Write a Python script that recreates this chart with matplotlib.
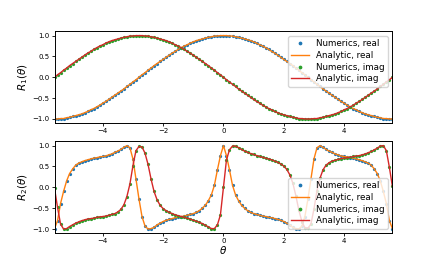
import matplotlib
matplotlib.use("Agg")
import matplotlib.pyplot as plt

# theta grid (sample points of the numerics)
theta = [
    -5.6, -5.5, -5.4, -5.3, -5.2, -5.1, -5.0, -4.9, -4.8, -4.7,
    -4.6, -4.5, -4.4, -4.3, -4.2, -4.1, -4.0, -3.9, -3.8, -3.7,
    -3.6, -3.5, -3.4, -3.3, -3.2, -3.1, -3.0, -2.9, -2.8, -2.7,
    -2.6, -2.5, -2.4, -2.3, -2.2, -2.1, -2.0, -1.9, -1.8, -1.7,
    -1.6, -1.5, -1.4, -1.3, -1.2, -1.1, -1.0, -0.9, -0.8, -0.7,
    -0.6, -0.5, -0.4, -0.3, -0.2, -0.1, 0.0, 0.1, 0.2, 0.3,
    0.4, 0.5, 0.6, 0.7, 0.8, 0.9, 1.0, 1.1, 1.2, 1.3,
    1.4, 1.5, 1.6, 1.7, 1.8, 1.9, 2.0, 2.1, 2.2, 2.3,
    2.4, 2.5, 2.6, 2.7, 2.8, 2.9, 3.0, 3.1, 3.2, 3.3,
    3.4, 3.5, 3.6, 3.7, 3.8, 3.9, 4.0, 4.1, 4.2, 4.3,
    4.4, 4.5, 4.6, 4.7, 4.8, 4.9, 5.0, 5.1, 5.2, 5.3,
    5.4, 5.5, 5.6,
]

# R1: real / imaginary parts
r1_real = [
    -1.00, -1.00, -0.99, -0.99, -0.97, -0.96, -0.94, -0.92, -0.90, -0.88,
    -0.85, -0.82, -0.78, -0.75, -0.71, -0.67, -0.62, -0.58, -0.53, -0.48,
    -0.43, -0.38, -0.33, -0.28, -0.22, -0.17, -0.11, -0.06, 0.00, 0.06,
    0.11, 0.17, 0.22, 0.28, 0.33, 0.38, 0.43, 0.48, 0.53, 0.58,
    0.62, 0.67, 0.71, 0.75, 0.78, 0.82, 0.85, 0.88, 0.90, 0.92,
    0.94, 0.96, 0.97, 0.99, 0.99, 1.00, 1.00, 1.00, 0.99, 0.99,
    0.97, 0.96, 0.94, 0.92, 0.90, 0.88, 0.85, 0.82, 0.78, 0.75,
    0.71, 0.67, 0.62, 0.58, 0.53, 0.48, 0.43, 0.38, 0.33, 0.28,
    0.22, 0.17, 0.11, 0.06, 0.00, -0.06, -0.11, -0.17, -0.22, -0.28,
    -0.33, -0.38, -0.43, -0.48, -0.53, -0.58, -0.62, -0.67, -0.71, -0.75,
    -0.78, -0.82, -0.85, -0.88, -0.90, -0.92, -0.94, -0.96, -0.97, -0.99,
    -0.99, -1.00, -1.00,
]
r1_imag = [
    0.00, 0.06, 0.11, 0.17, 0.22, 0.28, 0.33, 0.38, 0.43, 0.48,
    0.53, 0.58, 0.62, 0.67, 0.71, 0.75, 0.78, 0.82, 0.85, 0.88,
    0.90, 0.92, 0.94, 0.96, 0.97, 0.99, 0.99, 1.00, 1.00, 1.00,
    0.99, 0.99, 0.97, 0.96, 0.94, 0.92, 0.90, 0.88, 0.85, 0.82,
    0.78, 0.75, 0.71, 0.67, 0.62, 0.58, 0.53, 0.48, 0.43, 0.38,
    0.33, 0.28, 0.22, 0.17, 0.11, 0.06, 0.00, -0.06, -0.11, -0.17,
    -0.22, -0.28, -0.33, -0.38, -0.43, -0.48, -0.53, -0.58, -0.62, -0.67,
    -0.71, -0.75, -0.78, -0.82, -0.85, -0.88, -0.90, -0.92, -0.94, -0.96,
    -0.97, -0.99, -0.99, -1.00, -1.00, -1.00, -0.99, -0.99, -0.97, -0.96,
    -0.94, -0.92, -0.90, -0.88, -0.85, -0.82, -0.78, -0.75, -0.71, -0.67,
    -0.62, -0.58, -0.53, -0.48, -0.43, -0.38, -0.33, -0.28, -0.22, -0.17,
    -0.11, -0.06, 0.00,
]

# R2: real / imaginary parts
r2_real = [
    -0.99, -0.80, -0.39, -0.10, 0.15, 0.33, 0.44,
    0.53, 0.58, 0.61, 0.64, 0.66, 0.68, 0.70, 0.71, 0.73, 0.74,
    0.75, 0.78, 0.80, 0.84, 0.87, 0.91, 0.96, 1.00, 0.95, 0.68,
    0.20, -0.28, -0.70, -0.93, -1.00, -0.99, -0.96, -0.90, -0.86, -0.82,
    -0.79, -0.77, -0.75, -0.73, -0.72, -0.70, -0.69, -0.67, -0.65, -0.63,
    -0.60, -0.56, -0.50, -0.43, -0.32, -0.18, 0.05, 0.42, 0.76,
    1.00,
    0.76, 0.42, 0.05, -0.18, -0.32, -0.43, -0.50, -0.56, -0.60,
    -0.63, -0.65, -0.67, -0.69, -0.70, -0.72, -0.73, -0.75, -0.77, -0.79,
    -0.82, -0.86, -0.90, -0.96, -0.99, -1.00, -0.93, -0.70, -0.28, 0.20,
    0.68, 0.95, 1.00, 0.96, 0.91, 0.87, 0.84, 0.80, 0.78, 0.75,
    0.74, 0.73, 0.71, 0.70, 0.68, 0.66, 0.64, 0.61, 0.58, 0.53,
    0.44, 0.33, 0.15, -0.10, -0.39, -0.80, -0.99,
]
r2_imag = [
    -0.02, -0.48, -0.88, -1.00, -0.99, -0.94, -0.90,
    -0.86, -0.83, -0.80, -0.78, -0.76, -0.75, -0.74, -0.72, -0.71, -0.70,
    -0.69, -0.67, -0.65, -0.63, -0.59, -0.53, -0.42, -0.22, 0.08, 0.52,
    0.88, 0.98, 0.97, 0.82, 0.55, 0.20, -0.10, -0.30, -0.43, -0.51,
    -0.56, -0.60, -0.63, -0.66, -0.68, -0.70, -0.72, -0.74, -0.76, -0.79,
    -0.81, -0.84, -0.87, -0.91, -0.95, -0.99, -0.99, -0.90, -0.66,
    0.00,
    0.66, 0.90, 0.99, 0.99, 0.95, 0.91, 0.87, 0.84, 0.81,
    0.79, 0.76, 0.74, 0.72, 0.70, 0.68, 0.66, 0.63, 0.60, 0.56,
    0.51, 0.43, 0.30, 0.10, -0.20, -0.55, -0.82, -0.97, -0.98, -0.88,
    -0.52, -0.08, 0.22, 0.42, 0.53, 0.59, 0.63, 0.65, 0.67, 0.69,
    0.70, 0.71, 0.72, 0.74, 0.75, 0.76, 0.78, 0.80, 0.83, 0.86,
    0.90, 0.94, 0.99, 1.00, 0.88, 0.48, 0.02,
]

fig, axes = plt.subplots(2, 1, figsize=(4.36, 2.62), dpi=100)

panels = [(axes[0], r1_real, r1_imag, r'$R_1(\theta)$', 'upper right'),
          (axes[1], r2_real, r2_imag, r'$R_2(\theta)$', 'lower right')]

for ax, re, im, ylab, loc in panels:
    ax.plot(theta, re, 'o', color='C0', ms=1.3, label='Numerics, real')
    ax.plot(theta, re, '-', color='C1', lw=1.0, label='Analytic, real')
    ax.plot(theta, im, 'o', color='C2', ms=1.3, label='Numerics, imag')
    ax.plot(theta, im, '-', color='C3', lw=1.0, label='Analytic, imag')
    ax.set_xlim(-5.6, 5.6)
    ax.set_ylim(-1.1, 1.1)
    ax.set_yticks([-1.0, -0.5, 0.0, 0.5, 1.0])
    ax.set_ylabel(ylab, fontsize=7.5, labelpad=2)
    ax.tick_params(labelsize=5, length=2, width=0.6, pad=1.5)
    for s in ax.spines.values():
        s.set_linewidth(0.7)
    ax.legend(loc=loc, fontsize=6.3, handlelength=2.0, borderpad=0.4,
              labelspacing=0.3, markerscale=1.3)

axes[1].set_xlabel(r'$\theta$', fontsize=7.5, labelpad=0)

plt.savefig('out.png', dpi=100)
